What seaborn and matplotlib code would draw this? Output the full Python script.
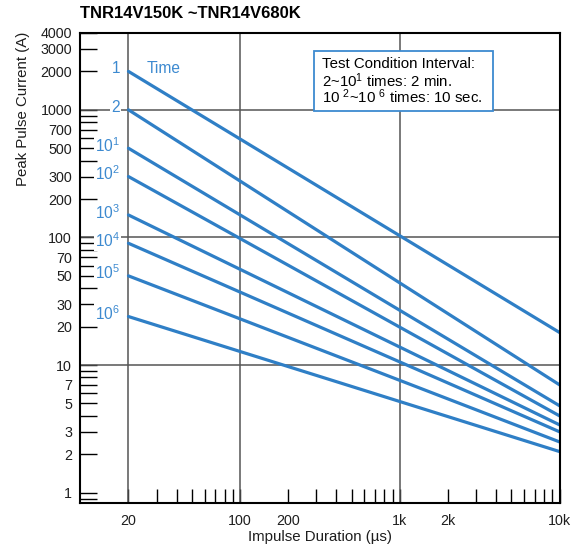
import matplotlib
matplotlib.use("Agg")
import matplotlib.pyplot as plt
from matplotlib.patches import Rectangle
import seaborn as sns
import pandas as pd

# ---- data ----
durations = [20, 10000]                      # impulse duration (us): start / end of each line
series_labels = ["1", "2", "$10^1$", "$10^2$", "$10^3$", "$10^4$", "$10^5$", "$10^6$"]
start_current = [2000, 1000, 500, 300, 150, 90, 50, 24]   # A at 20 us
end_current = [18, 7, 4.8, 4.0, 3.4, 3.0, 2.5, 2.1]        # A at 10k us

x_major = [20, 100, 200, 1000, 2000, 10000]
x_major_labels = ["20", "100", "200", "1k", "2k", "10k"]
x_minor = [30, 40, 50, 60, 70, 80, 90, 300, 400, 500, 600, 700, 800, 900,
           3000, 4000, 5000, 6000, 7000, 8000, 9000]
y_major = [1, 2, 3, 5, 7, 10, 20, 30, 50, 70, 100, 200, 300, 500, 700, 1000, 2000, 3000, 4000]
y_minor = [0.9, 4, 6, 8, 9, 40, 60, 80, 90, 400, 600, 800, 900]
x_grid = [20, 100, 1000]
y_grid = [10, 100, 1000]

title = "TNR14V150K ~TNR14V680K"
box_lines = ["Test Condition Interval:",
             "2~$10^1$ times: 2 min.",
             "10 $^2$~10 $^6$ times: 10 sec."]

rows = []
for lab, s, e in zip(series_labels, start_current, end_current):
    rows.append({"series": lab, "duration": durations[0], "current": s})
    rows.append({"series": lab, "duration": durations[1], "current": e})
df = pd.DataFrame(rows)

# ---- style ----
sns.set_theme(style="white")
plt.rcParams["font.family"] = ["Liberation Sans", "DejaVu Sans"]
plt.rcParams["mathtext.default"] = "regular"

LINE = "#2f7fc6"
LABEL = "#3d8ad0"
TXT = "#1e1e1e"

fig = plt.figure(figsize=(5.8, 5.48), dpi=100)
ax = fig.add_axes([0.1386, 0.0821, 0.9647 - 0.1386, 0.9398 - 0.0821])

for v in x_grid:
    ax.axvline(v, color="#555555", lw=1.1, zorder=1)
for v in y_grid:
    ax.axhline(v, color="#555555", lw=1.1, zorder=1)

sns.lineplot(data=df, x="duration", y="current", units="series", estimator=None,
             color=LINE, lw=2.3, ax=ax, zorder=3, legend=False)

ax.set_xscale("log")
ax.set_yscale("log")
ax.set_xlim(10, 10000)
ax.set_ylim(0.83, 4000)

ax.set_xticks(x_major)
ax.set_xticklabels(x_major_labels)
ax.set_xticks(x_minor, minor=True)
ax.set_xticklabels([], minor=True)
ax.set_yticks(y_major)
ax.set_yticklabels([str(v) for v in y_major])
ax.set_yticks(y_minor, minor=True)
ax.set_yticklabels([], minor=True)

ax.tick_params(axis="x", which="both", direction="in", length=10, width=1.0,
               color="black", labelsize=10.3, pad=8, bottom=True, top=False, labelcolor=TXT)
ax.tick_params(axis="y", which="both", direction="in", length=12, width=1.0,
               color="black", labelsize=10.3, pad=6, left=True, right=False, labelcolor=TXT)

for sp in ax.spines.values():
    sp.set_color("black")
    sp.set_linewidth(1.5)
    sp.set_zorder(5)

ax.set_xlabel("Impulse Duration (\u00b5s)", fontsize=10.8, color=TXT)
ax.set_ylabel("Peak Pulse Current (A)", fontsize=10.8, color=TXT)
ax.xaxis.set_label_coords(0.5, -0.058)
ax.yaxis.set_label_coords(-0.106, 0.838)

# series labels
for lab, s in zip(series_labels, start_current):
    ax.annotate(lab, xy=(durations[0], s), xytext=(-6, 2), textcoords="offset points",
                ha="right", va="center", fontsize=11.2, color=LABEL, zorder=4,
                bbox=dict(facecolor="white", edgecolor="none", pad=0.8))
ax.annotate("Time", xy=(durations[0], start_current[0]), xytext=(13, 2),
            textcoords="offset points", ha="left", va="center", fontsize=11.2, color=LABEL)

# test condition box
ax.add_patch(Rectangle((0.4885, 0.834), 0.862 - 0.4885, 0.962 - 0.834, transform=ax.transAxes,
                       facecolor="white", edgecolor=LABEL, lw=1.3, zorder=6))
for line, yy in zip(box_lines, [0.9255, 0.8857, 0.850]):
    ax.text(0.505, yy, line, transform=ax.transAxes, ha="left", va="baseline",
            fontsize=10.8, color="black", zorder=7)

fig.text(80 / 580, 1 - 13 / 548, title, ha="left", va="center", fontsize=12,
         fontweight="bold", color="black")

fig.savefig("out.png", dpi=100)
